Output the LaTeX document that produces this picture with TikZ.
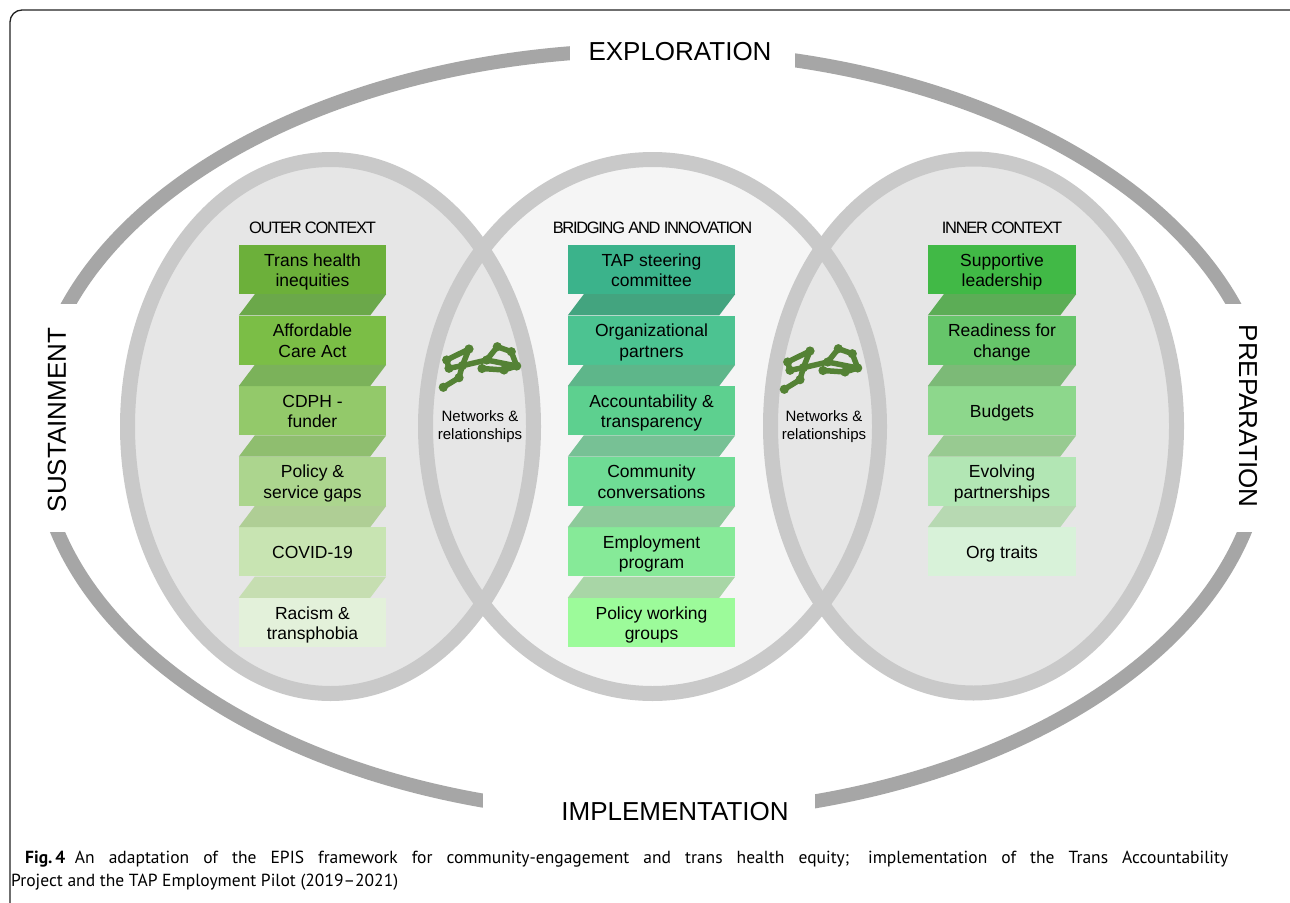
\documentclass[tikz,border=0pt]{standalone}
\usepackage{fontspec}
\setmainfont{Liberation Sans}
\newfontfamily\capfont{PT Sans}
\newfontfamily\hdrfont[LetterSpace=-8]{Liberation Sans}
\definecolor{o1}{HTML}{6CB03A}\definecolor{oc1}{HTML}{6BA84A}
\definecolor{o2}{HTML}{7BBE46}\definecolor{oc2}{HTML}{7BB25A}
\definecolor{o3}{HTML}{93C96A}\definecolor{oc3}{HTML}{8FBE6F}
\definecolor{o4}{HTML}{ACD58E}\definecolor{oc4}{HTML}{AFCE95}
\definecolor{o5}{HTML}{C8E4B2}\definecolor{oc5}{HTML}{C6DEB1}
\definecolor{o6}{HTML}{E3F1DA}
\definecolor{m1}{HTML}{3BB38B}\definecolor{mc1}{HTML}{43A47F}
\definecolor{m2}{HTML}{4CC391}\definecolor{mc2}{HTML}{5EB68A}
\definecolor{m3}{HTML}{5DD08F}\definecolor{mc3}{HTML}{77C195}
\definecolor{m4}{HTML}{6FDC95}\definecolor{mc4}{HTML}{8DCA9A}
\definecolor{m5}{HTML}{86EA98}\definecolor{mc5}{HTML}{A8D6A6}
\definecolor{m6}{HTML}{9CFB9A}
\definecolor{r1}{HTML}{41B946}\definecolor{rc1}{HTML}{5CAD56}
\definecolor{r2}{HTML}{66C56A}\definecolor{rc2}{HTML}{7CBA77}
\definecolor{r3}{HTML}{8DD78C}\definecolor{rc3}{HTML}{98CA91}
\definecolor{r4}{HTML}{B2E6B4}\definecolor{rc4}{HTML}{B7D9B2}
\definecolor{r5}{HTML}{D8F2D9}
\definecolor{ringgray}{HTML}{C9C9C9}
\definecolor{outgray}{HTML}{A6A6A6}
\definecolor{sidefill}{HTML}{E6E6E6}
\definecolor{midfill}{HTML}{F5F5F5}
\definecolor{netgreen}{HTML}{548235}
\definecolor{framecol}{HTML}{222222}
\begin{document}
\begin{tikzpicture}[x=1pt,y=-1pt,
  bx/.style={minimum height=49, inner sep=0, align=center,
    font=\fontsize{17.5}{20.5}\selectfont},
  obx/.style={bx, minimum width=147},
  mbx/.style={bx, minimum width=167},
  rbx/.style={bx, minimum width=148},
  btxt/.style={inner sep=0, align=center, font=\fontsize{17.5}{20.5}\selectfont},
  hdr/.style={inner sep=0, font=\hdrfont\fontsize{16.5}{18}\selectfont},
  phase/.style={inner sep=0, font=\fontsize{26}{28}\selectfont},
  netlbl/.style={inner sep=0, align=center, font=\fontsize{15}{18}\selectfont},
  ring/.style={draw=ringgray, line width=15},
  outring/.style={draw=outgray, line width=14},
  netline/.style={draw=netgreen, line width=5.5, line join=round, line cap=round},
  netdot/.style={fill=netgreen},
  netw/.pic={
    \draw[netline] (12.7,25) -- (35,14) -- (28.3,30.7) -- (15,33.3) -- cycle;
    \draw[netline] (28.3,30.7) -- (25,42.7) -- (9.3,52.3);
    \draw[netline] (28.3,30.7) -- (52.7,25) -- (63.3,11.7) -- (77.3,16.7) -- (82.7,31) -- (52.7,25);
    \draw[netline] (48,33.5) -- (70,35) -- (82.7,31);
    \foreach \p in {(12.7,25),(35,14),(28.3,30.7),(15,33.3),(25,42.7),(9.3,52.3),
      (52.7,25),(63.3,11.7),(77.3,16.7),(82.7,31),(48,33.5),(70,35)}
      \fill[netdot] \p circle[radius=4.6];
  }
]
\useasboundingbox (0,0) rectangle (1290,902);
\clip (0,0) rectangle (1290,902);
\fill[white] (0,0) rectangle (1290,902);

% frame
\draw[draw=framecol, line width=1.3] (10,910) -- (10,22) arc[start angle=180, end angle=270, radius=12] -- (1300,10);

% outer phase ring
\draw[outring] (1267,427) arc[start angle=0, end angle=-180, x radius=616, y radius=377];
\draw[outring] (38,437) arc[start angle=180, end angle=0, x radius=613, y radius=378];
\fill[white] (570,25) rectangle (795,75);
\fill[white] (483,778) rectangle (815,832);
\fill[white] (28,304) rectangle (96,532);
\fill[white] (1204,304) rectangle (1276,532);

% phase labels
\node[phase] (expl) at (680,52) {EXPLORATION};
\node[phase] (impl) at (675,812) {IMPLEMENTATION};
\node[phase, rotate=90] (sust) at (57,420) {SUSTAINMENT};
\node[phase, rotate=-90] (prep) at (1248,416) {PREPARATION};

% context ellipses
\fill[midfill] (652.5,426.5) ellipse[x radius=227, y radius=267];
\fill[sidefill] (330.5,426.5) ellipse[x radius=203, y radius=267];
\fill[sidefill] (973.5,426) ellipse[x radius=203, y radius=267];
\draw[ring] (652.5,426.5) ellipse[x radius=227, y radius=267];
\draw[ring] (330.5,426.5) ellipse[x radius=203, y radius=267];
\draw[ring] (973.5,426) ellipse[x radius=203, y radius=267];

% headers
\node[hdr] (hout) at (312.5,228) {OUTER CONTEXT};
\node[hdr] (hmid) at (652.5,228) {BRIDGING AND INNOVATION};
\node[hdr] (hin) at (1002,228) {INNER CONTEXT};

% outer context column
\node[obx, fill=o1] (o1) at (312.5,269.5) {};
\node[obx, fill=o2] (o2) at (312.5,340.1) {};
\node[obx, fill=o3] (o3) at (312.5,410.7) {};
\node[obx, fill=o4] (o4) at (312.5,481.3) {};
\node[obx, fill=o5] (o5) at (312.5,551.9) {};
\node[obx, fill=o6] (o6) at (312.5,622.5) {};

% bridging column
\node[mbx, fill=m1] (m1) at (651.5,269.5) {};
\node[mbx, fill=m2] (m2) at (651.5,340.1) {};
\node[mbx, fill=m3] (m3) at (651.5,410.7) {};
\node[mbx, fill=m4] (m4) at (651.5,481.3) {};
\node[mbx, fill=m5] (m5) at (651.5,551.9) {};
\node[mbx, fill=m6] (m6) at (651.5,622.5) {};

% inner context column
\node[rbx, fill=r1] (r1) at (1002,269.5) {};
\node[rbx, fill=r2] (r2) at (1002,340.1) {};
\node[rbx, fill=r3] (r3) at (1002,410.7) {};
\node[rbx, fill=r4] (r4) at (1002,481.3) {};
\node[rbx, fill=r5] (r5) at (1002,551.9) {};

% slanted connectors
\foreach \a/\b/\c in {o1/o2/oc1,o2/o3/oc2,o3/o4/oc3,o4/o5/oc4,o5/o6/oc5,
                      m1/m2/mc1,m2/m3/mc2,m3/m4/mc3,m4/m5/mc4,m5/m6/mc5,
                      r1/r2/rc1,r2/r3/rc2,r3/r4/rc3,r4/r5/rc4}
  \fill[\c] ([xshift=16pt]\a.south west) -- (\a.south east)
     -- ([xshift=-16pt]\b.north east) -- (\b.north west) -- cycle;

% box texts (baseline-centred in the boxes)
\foreach \n/\t in {o1/{Trans health\\inequities}, o2/{Affordable\\Care Act},
   o3/{CDPH -\\funder}, o4/{Policy \&\\service gaps}, o5/{COVID-19},
   o6/{Racism \&\\transphobia},
   m1/{TAP steering\\committee}, m2/{Organizational\\partners},
   m3/{Accountability \&\\transparency}, m4/{Community\\conversations},
   m5/{Employment\\program}, m6/{Policy working\\groups},
   r1/{Supportive\\leadership}, r2/{Readiness for\\change}, r3/{Budgets},
   r4/{Evolving\\partnerships}, r5/{Org traits}}
  \node[btxt, text depth=0pt] at ([yshift=-0.5pt]\n.center) {\t};

% networks
\pic at (434,335) {netw};
\pic at (775,337) {netw};
\node[netlbl] (netl) at (480,427) {Networks \&\\relationships};
\node[netlbl] (netr) at (824,427) {Networks \&\\relationships};

% caption
\node[anchor=base west, inner sep=0, font=\capfont\fontsize{17.5}{22}\selectfont] (cap1) at (25,863)
  {\makebox[1203pt][s]{\textbf{Fig.\,4}\hspace{0.55em}An adaptation of the EPIS framework for community-engagement and trans health equity; implementation of the Trans Accountability}};
\node[anchor=base west, inner sep=0, font=\capfont\fontsize{17.5}{22}\selectfont] (cap2) at (11,886)
  {Project and the TAP Employment Pilot (2019–2021)};
\end{tikzpicture}
\end{document}
